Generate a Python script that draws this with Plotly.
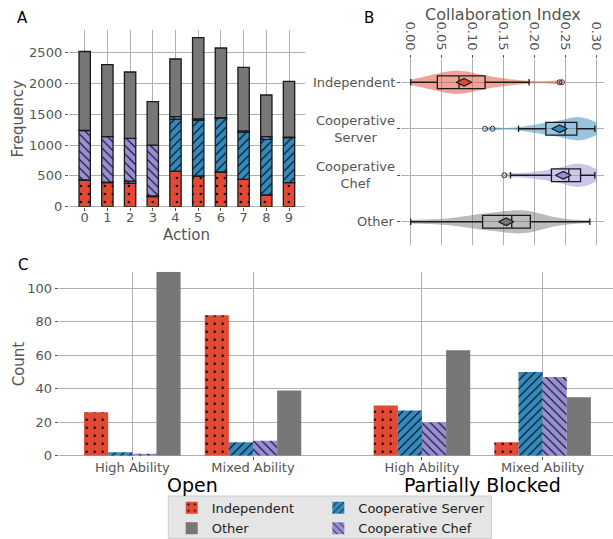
import plotly.graph_objects as go

W, H = 613, 539


def px(x):
    return x / W


def py(y):
    return 1 - y / H


FONT = "DejaVu Sans"
TICK = "#555555"
GRID = "#b0b0b0"
EDGE = "#1a1a1a"

RED = "#e24a33"
BLUE = "#348abd"
PURPLE = "#988ed5"
GRAY = "#777777"

# ---------------- Panel A: action frequencies per strategy ----------------
actions = list(range(10))
freq_independent = [433, 390, 380, 162, 579, 498, 563, 445, 190, 390]
freq_server = [3, 10, 35, 13, 844, 909, 871, 762, 904, 730]
freq_chef = [801, 736, 695, 826, 38, 20, 10, 25, 42, 10]
freq_other = [1282, 1169, 1076, 703, 936, 1316, 1132, 1030, 677, 905]

# ---------------- Panel B: collaboration index distributions ----------------
strategies = ["Independent", "Cooperative Server", "Cooperative Chef", "Other"]
strategy_labels = ["Independent", "Cooperative<br>Server", "Cooperative<br>Chef", "Other"]

ci_independent = [0.000, 0.012, 0.022, 0.030, 0.036, 0.042, 0.045, 0.050, 0.055, 0.060,
                  0.064, 0.068, 0.071, 0.074, 0.077, 0.079, 0.082, 0.086, 0.090, 0.095,
                  0.100, 0.106, 0.112, 0.118, 0.122, 0.130, 0.140, 0.152, 0.165, 0.190,
                  0.240, 0.245]
ci_server = [0.120, 0.132, 0.174, 0.190, 0.200, 0.208, 0.214, 0.218, 0.223, 0.228,
             0.233, 0.238, 0.243, 0.247, 0.250, 0.254, 0.257, 0.260, 0.263, 0.265,
             0.267, 0.269, 0.271, 0.273, 0.276, 0.279, 0.282, 0.285, 0.288, 0.291,
             0.294, 0.297, 0.299]
ci_chef = [0.151, 0.161, 0.180, 0.195, 0.205, 0.213, 0.220, 0.226, 0.231, 0.237,
           0.242, 0.247, 0.251, 0.255, 0.258, 0.261, 0.264, 0.266, 0.268, 0.270,
           0.272, 0.274, 0.277, 0.280, 0.284, 0.287, 0.290, 0.294, 0.297, 0.299]
ci_other = [0.000, 0.030, 0.055, 0.075, 0.090, 0.100, 0.108, 0.115, 0.122, 0.130,
            0.137, 0.143, 0.150, 0.156, 0.162, 0.167, 0.172, 0.177, 0.182, 0.186,
            0.190, 0.194, 0.200, 0.208, 0.218, 0.232, 0.250, 0.289]

ci_q1 = [0.043, 0.218, 0.227, 0.116]
ci_median = [0.078, 0.249, 0.255, 0.163]
ci_q3 = [0.120, 0.268, 0.274, 0.193]
ci_low = [0.000, 0.174, 0.161, 0.000]
ci_high = [0.191, 0.297, 0.297, 0.289]
ci_mean = [0.086, 0.240, 0.246, 0.154]
outlier_value = [0.240, 0.244, 0.120, 0.132, 0.151]
outlier_strategy = [0, 0, 1, 1, 2]

# ---------------- Panel C: counts per layout and team ability ----------------
abilities = ["High Ability", "Mixed Ability", "High Ability", "Mixed Ability"]
layouts = ["Open", "Partially Blocked"]
count_independent = [26, 84, 30, 8]
count_server = [2, 8, 27, 50]
count_chef = [1, 9, 20, 47]
count_other = [110, 39, 63, 35]

# slot positions on the panel C axis (gap between the two layouts)
slot_x = [0, 1, 2.4, 3.4]

styles = {
    "Independent": dict(color=RED, shape=".", size=8, solidity=0.07),
    "Cooperative Server": dict(color=BLUE, shape="/", size=6, solidity=0.17),
    "Cooperative Chef": dict(color=PURPLE, shape="\\", size=6, solidity=0.17),
    "Other": dict(color=GRAY, shape="", size=8, solidity=0.2),
}


def marker_for(name, edge=0.0):
    s = styles[name]
    m = dict(color=s["color"], line=dict(color=EDGE, width=edge))
    if s["shape"]:
        m["pattern"] = dict(shape=s["shape"], fgcolor="black", bgcolor=s["color"],
                            size=s["size"], solidity=s["solidity"], fillmode="replace")
    return m


fig = go.Figure()

# Panel A stacked bars (stacked through explicit bases)
stack_order = [("Independent", freq_independent), ("Cooperative Server", freq_server),
               ("Cooperative Chef", freq_chef), ("Other", freq_other)]
base = [0] * len(actions)
for name, vals in stack_order:
    fig.add_trace(go.Bar(x=actions, y=vals, base=list(base), width=0.5,
                         marker=marker_for(name, edge=1.3), showlegend=False,
                         name=name, xaxis="x", yaxis="y"))
    base = [b + v for b, v in zip(base, vals)]

# Panel B violins
violin_fill = ["rgba(226,74,51,0.5)", "rgba(52,138,189,0.5)",
               "rgba(152,142,213,0.5)", "rgba(119,119,119,0.5)"]
violin_bw = [0.018, 0.016, 0.016, 0.022]
violin_span = [[0.0, 0.245], [0.12, 0.30], [0.151, 0.30], [0.0, 0.289]]
for i, samples in enumerate([ci_independent, ci_server, ci_chef, ci_other]):
    fig.add_trace(go.Violin(x=samples, y0=i, orientation="h", name=strategies[i],
                            width=0.5, scalemode="width", side="both",
                            spanmode="manual", span=violin_span[i],
                            bandwidth=violin_bw[i],
                            fillcolor=violin_fill[i],
                            line=dict(color="rgba(0,0,0,0)", width=0),
                            points=False, box_visible=False, meanline_visible=False,
                            showlegend=False, hoverinfo="skip",
                            xaxis="x2", yaxis="y2"))

fig.add_trace(go.Box(y=[0, 1, 2, 3], q1=ci_q1, median=ci_median, q3=ci_q3,
                     lowerfence=ci_low, upperfence=ci_high, orientation="h",
                     width=0.27, whiskerwidth=0.5, fillcolor="rgba(0,0,0,0)",
                     line=dict(color=EDGE, width=1.3), boxpoints=False,
                     showlegend=False, xaxis="x2", yaxis="y2"))

fig.add_trace(go.Scatter(x=outlier_value, y=outlier_strategy, mode="markers",
                         marker=dict(symbol="circle-open", size=5, color="#333333",
                                     line=dict(width=1)),
                         showlegend=False, xaxis="x2", yaxis="y2"))

fig.add_trace(go.Scatter(x=ci_mean, y=[0, 1, 2, 3], mode="markers",
                         marker=dict(symbol="diamond-wide", size=11,
                                     color=[RED, BLUE, PURPLE, GRAY],
                                     line=dict(color=EDGE, width=1.2)),
                         showlegend=False, xaxis="x2", yaxis="y2"))

# Panel C grouped bars
group_series = [("Independent", count_independent, -0.4, "legend"),
                ("Cooperative Server", count_server, -0.2, "legend2"),
                ("Cooperative Chef", count_chef, 0.0, "legend4"),
                ("Other", count_other, 0.2, "legend3")]
for name, vals, off, leg in group_series:
    fig.add_trace(go.Bar(x=slot_x, y=vals, width=0.2, offset=off,
                         marker=marker_for(name), name=name, legend=leg,
                         xaxis="x3", yaxis="y3"))

axis_common = dict(showgrid=True, gridcolor=GRID, gridwidth=1.2, zeroline=False,
                   showline=False, ticks="outside", ticklen=3, tickcolor=TICK,
                   tickfont=dict(family=FONT, size=13, color=TICK))

legend_common = dict(xanchor="left", yanchor="middle", bgcolor="rgba(0,0,0,0)",
                     borderwidth=0, font=dict(family=FONT, size=13, color="#222222"))

fig.update_layout(
    width=W, height=H, margin=dict(l=0, r=0, t=0, b=0, autoexpand=False),
    paper_bgcolor="white", plot_bgcolor="white",
    font=dict(family=FONT, color=TICK),
    barmode="overlay", violinmode="overlay", boxmode="overlay",
    xaxis=dict(axis_common, domain=[px(68.8), px(304.9)], range=[-0.7, 9.7],
               tickvals=actions, anchor="y", ticklabelstandoff=-4),
    yaxis=dict(axis_common, domain=[py(206.7), py(30)], range=[0, 2868],
               tickvals=[0, 500, 1000, 1500, 2000, 2500], anchor="x",
               zeroline=True, zerolinecolor=GRID, zerolinewidth=1.2),
    xaxis2=dict(axis_common, domain=[px(401), px(604)], range=[-0.0156, 0.3118],
                tickvals=[0, 0.05, 0.10, 0.15, 0.20, 0.25, 0.30], tickformat=".2f",
                tickangle=90, side="top", anchor="y2"),
    yaxis2=dict(axis_common, domain=[py(245), py(59)], range=[3.5, -0.5],
                tickvals=[0, 1, 2, 3], showticklabels=False, anchor="x2"),
    xaxis3=dict(axis_common, domain=[px(58.7), 1.0], range=[-0.61, 3.983],
                tickvals=slot_x, ticktext=abilities, anchor="y3", ticklabelstandoff=-3),
    yaxis3=dict(axis_common, domain=[py(455.7), py(271.7)], range=[0, 110],
                tickvals=[0, 20, 40, 60, 80, 100], anchor="x3",
                zeroline=True, zerolinecolor=GRID, zerolinewidth=1.2),
    legend=dict(legend_common, x=px(171.7), y=py(507.7)),
    legend2=dict(legend_common, x=px(318.3), y=py(507.7)),
    legend3=dict(legend_common, x=px(171.7), y=py(528.3)),
    legend4=dict(legend_common, x=px(318.3), y=py(528.3)),
)

# legend frame behind the four entries
fig.add_shape(type="rect", xref="paper", yref="paper",
              x0=px(168.3), x1=px(491.4), y0=py(538.5), y1=py(496),
              fillcolor="#e5e5e5", line=dict(color="#cccccc", width=1), layer="below")


def text(x, y, s, size, color=TICK, angle=0, xanchor="center"):
    fig.add_annotation(x=px(x), y=py(y), xref="paper", yref="paper",
                       text=s, showarrow=False, textangle=angle, xanchor=xanchor,
                       yanchor="middle", align="center",
                       font=dict(family=FONT, size=size, color=color))


# panel letters
text(22.7, 18, "A", 15, color="black")
text(369, 18, "B", 15, color="black")
text(22.8, 264.5, "C", 15, color="black")

# axis titles
text(18.3, 118.3, "Frequency", 15, angle=-90)
text(186.9, 235, "Action", 15)
text(502.5, 14.2, "Collaboration Index", 16)
text(18.8, 363.5, "Count", 15, angle=-90)

# layout group labels
text(192.5, 484.5, layouts[0], 19, color="black")
text(482, 484.5, layouts[1], 19, color="black")

# panel B category labels
for i, lab in enumerate(strategy_labels):
    fig.add_annotation(x=px(397), y=i, xref="paper", yref="y2", text=lab,
                       showarrow=False, xanchor="right", yanchor="middle", align="center",
                       font=dict(family=FONT, size=13, color=TICK))

fig.write_html("out.html")
